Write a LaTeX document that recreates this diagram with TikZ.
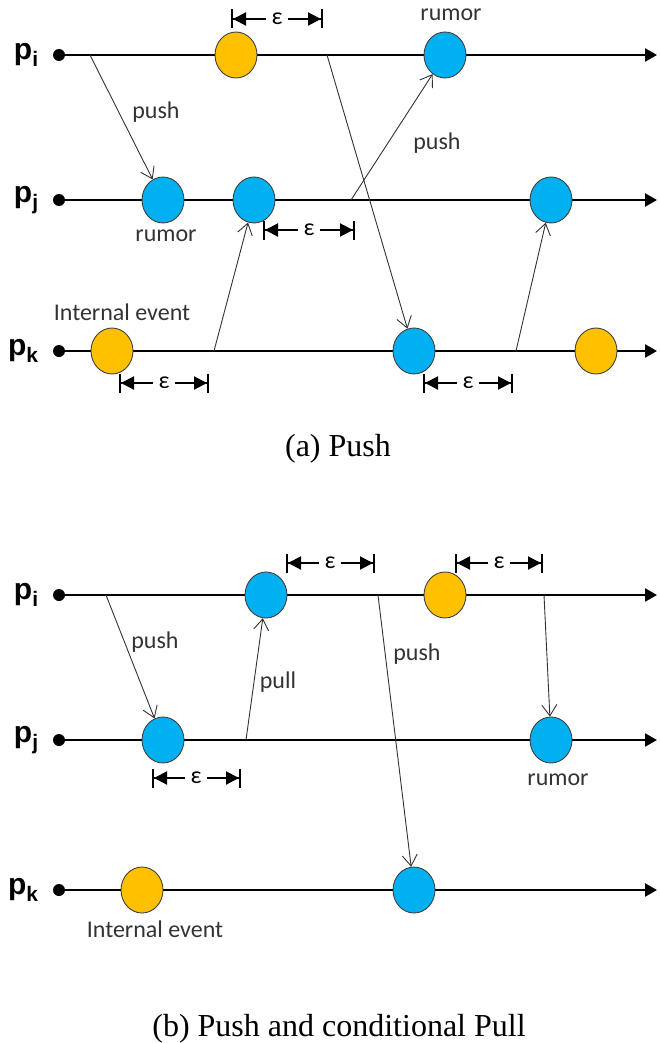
\documentclass[tikz,border=0pt]{standalone}
\usepackage{fontspec}
\setmainfont{Liberation Serif}
\newfontfamily\calfont{Carlito}
\newfontfamily\arialfont{Liberation Sans}
\usetikzlibrary{positioning,arrows.meta,shapes.geometric}
\definecolor{evblue}{RGB}{0,176,240}
\definecolor{evorange}{RGB}{255,192,0}

\begin{document}
\begin{tikzpicture}[x=1pt, y=-1pt,
        proc/.style={circle, fill=black, inner sep=0pt, minimum size=12pt},
        plabel/.style={inner sep=0pt, font=\arialfont\bfseries\fontsize{30}{30}\selectfont},
        timeline/.style={draw, line width=2.4pt, -{Triangle[length=12pt, width=13pt]}},
        rumorev/.style={ellipse, draw=black!75, line width=0.9pt, fill=evblue,
            minimum width=42pt, minimum height=46pt, inner sep=0pt},
        internal/.style={rumorev, fill=evorange},
        msg/.style={draw=black!80, line width=0.9pt, -{Straight Barb[length=11pt, width=15pt]}},
        txt/.style={anchor=base, inner sep=0pt, text=black!80, font=\calfont\fontsize{24}{24}\selectfont},
        epsl/.style={inner sep=5pt, font=\calfont\fontsize{24}{24}\selectfont},
        dim/.style={draw, line width=2pt, -{Triangle[length=13pt, width=13pt] Bar[width=19pt]}},
        caption/.style={anchor=base, inner sep=0pt, font=\fontsize{32}{32}\selectfont}
    ]
        \useasboundingbox (0,0) rectangle (659,1043);

        % ---------- (a) Push ----------
        % Processes
        \node[proc] (ai) at (59,55) {};
        \node[proc] (aj) at (59,200) {};
        \node[proc] (ak) at (59,351) {};
        \node[plabel, left=14pt of ai] (ai-lbl) {p\textsubscript{i}};
        \node[plabel, left=14pt of aj] (aj-lbl) {p\textsubscript{j}};
        \node[plabel, left=14pt of ak] (ak-lbl) {p\textsubscript{k}};
        \coordinate (ai-end) at (657,55);
        \coordinate (aj-end) at (657,200);
        \coordinate (ak-end) at (657,351);
        \draw[timeline] (ai) -- (ai-end);
        \draw[timeline] (aj) -- (aj-end);
        \draw[timeline] (ak) -- (ak-end);

        % Events
        \node[internal] (ai1) at (236,55) {};
        \node[rumorev] (ai2) at (445,55) {};
        \node[rumorev] (aj1) at (163,200) {};
        \node[rumorev] (aj2) at (254,200) {};
        \node[rumorev] (aj3) at (551,200) {};
        \node[internal] (ak1) at (112,351) {};
        \node[rumorev] (ak2) at (414,351) {};
        \node[internal] (ak3) at (596,351) {};

        % Messages
        \coordinate (ai-s1) at (90,55);
        \coordinate (ai-s2) at (327,55);
        \coordinate (aj-s1) at (351,200);
        \coordinate (ak-s1) at (214,351);
        \coordinate (ak-s2) at (516,351);
        \draw[msg] (ai-s1) -- (aj1);
        \draw[msg] (ai-s2) -- (ak2);
        \draw[msg] (aj-s1) -- (ai2);
        \draw[msg] (ak-s1) -- (aj2);
        \draw[msg] (ak-s2) -- (aj3);

        % Labels
        \node[txt] (a-push1) at (156,119) {push};
        \node[txt] (a-push2) at (437,150) {push};
        \node[txt] (a-rumor1) at (451,21) {rumor};
        \node[txt] (a-rumor2) at (166,241) {rumor};
        \node[txt] (a-int) at (122,320) {Internal event};

        % Epsilon windows
        \node[epsl] (a-eps1) at (277,19) {ε};
        \coordinate (a-eps1l) at (231,19);
        \coordinate (a-eps1r) at (323,19);
        \draw[dim] (a-eps1) -- (a-eps1l);
        \draw[dim] (a-eps1) -- (a-eps1r);
        \node[epsl] (a-eps2) at (309,230) {ε};
        \coordinate (a-eps2l) at (263,230);
        \coordinate (a-eps2r) at (355,230);
        \draw[dim] (a-eps2) -- (a-eps2l);
        \draw[dim] (a-eps2) -- (a-eps2r);
        \node[epsl] (a-eps3) at (164,383) {ε};
        \coordinate (a-eps3l) at (119,383);
        \coordinate (a-eps3r) at (209,383);
        \draw[dim] (a-eps3) -- (a-eps3l);
        \draw[dim] (a-eps3) -- (a-eps3r);
        \node[epsl] (a-eps4) at (468,383) {ε};
        \coordinate (a-eps4l) at (423,383);
        \coordinate (a-eps4r) at (513,383);
        \draw[dim] (a-eps4) -- (a-eps4l);
        \draw[dim] (a-eps4) -- (a-eps4r);

        \node[caption] (cap-a) at (338,456) {(a) Push};

        % ---------- (b) Push and conditional Pull ----------
        % Processes
        \node[proc] (bi) at (59,595) {};
        \node[proc] (bj) at (59,740) {};
        \node[proc] (bk) at (59,890) {};
        \node[plabel, left=14pt of bi] (bi-lbl) {p\textsubscript{i}};
        \node[plabel, left=14pt of bj] (bj-lbl) {p\textsubscript{j}};
        \node[plabel, left=14pt of bk] (bk-lbl) {p\textsubscript{k}};
        \coordinate (bi-end) at (657,595);
        \coordinate (bj-end) at (657,740);
        \coordinate (bk-end) at (657,890);
        \draw[timeline] (bi) -- (bi-end);
        \draw[timeline] (bj) -- (bj-end);
        \draw[timeline] (bk) -- (bk-end);

        % Events
        \node[rumorev] (bi1) at (266,595) {};
        \node[internal] (bi2) at (445,595) {};
        \node[rumorev] (bj1) at (163,740) {};
        \node[rumorev] (bj2) at (551,740) {};
        \node[internal] (bk1) at (142,890) {};
        \node[rumorev] (bk2) at (414,890) {};

        % Messages
        \coordinate (bi-s1) at (106,595);
        \coordinate (bi-s2) at (378,595);
        \coordinate (bi-s3) at (544,595);
        \coordinate (bj-s1) at (246,740);
        \draw[msg] (bi-s1) -- (bj1);
        \draw[msg] (bj-s1) -- (bi1);
        \draw[msg] (bi-s2) -- (bk2);
        \draw[msg] (bi-s3) -- (bj2);

        % Labels
        \node[txt] (b-push1) at (155,648) {push};
        \node[txt] (b-pull) at (278,688) {pull};
        \node[txt] (b-push2) at (417,660) {push};
        \node[txt] (b-rumor) at (558,785) {rumor};
        \node[txt] (b-int) at (155,937) {Internal event};

        % Epsilon windows
        \node[epsl] (b-eps1) at (330,563) {ε};
        \coordinate (b-eps1l) at (286,563);
        \coordinate (b-eps1r) at (375,563);
        \draw[dim] (b-eps1) -- (b-eps1l);
        \draw[dim] (b-eps1) -- (b-eps1r);
        \node[epsl] (b-eps2) at (499,563) {ε};
        \coordinate (b-eps2l) at (455,563);
        \coordinate (b-eps2r) at (543,563);
        \draw[dim] (b-eps2) -- (b-eps2l);
        \draw[dim] (b-eps2) -- (b-eps2r);
        \node[epsl] (b-eps3) at (196,778) {ε};
        \coordinate (b-eps3l) at (152,778);
        \coordinate (b-eps3r) at (241,778);
        \draw[dim] (b-eps3) -- (b-eps3l);
        \draw[dim] (b-eps3) -- (b-eps3r);

        \node[caption] (cap-b) at (339,1036) {(b) Push and conditional Pull};
    \end{tikzpicture}
\end{document}
